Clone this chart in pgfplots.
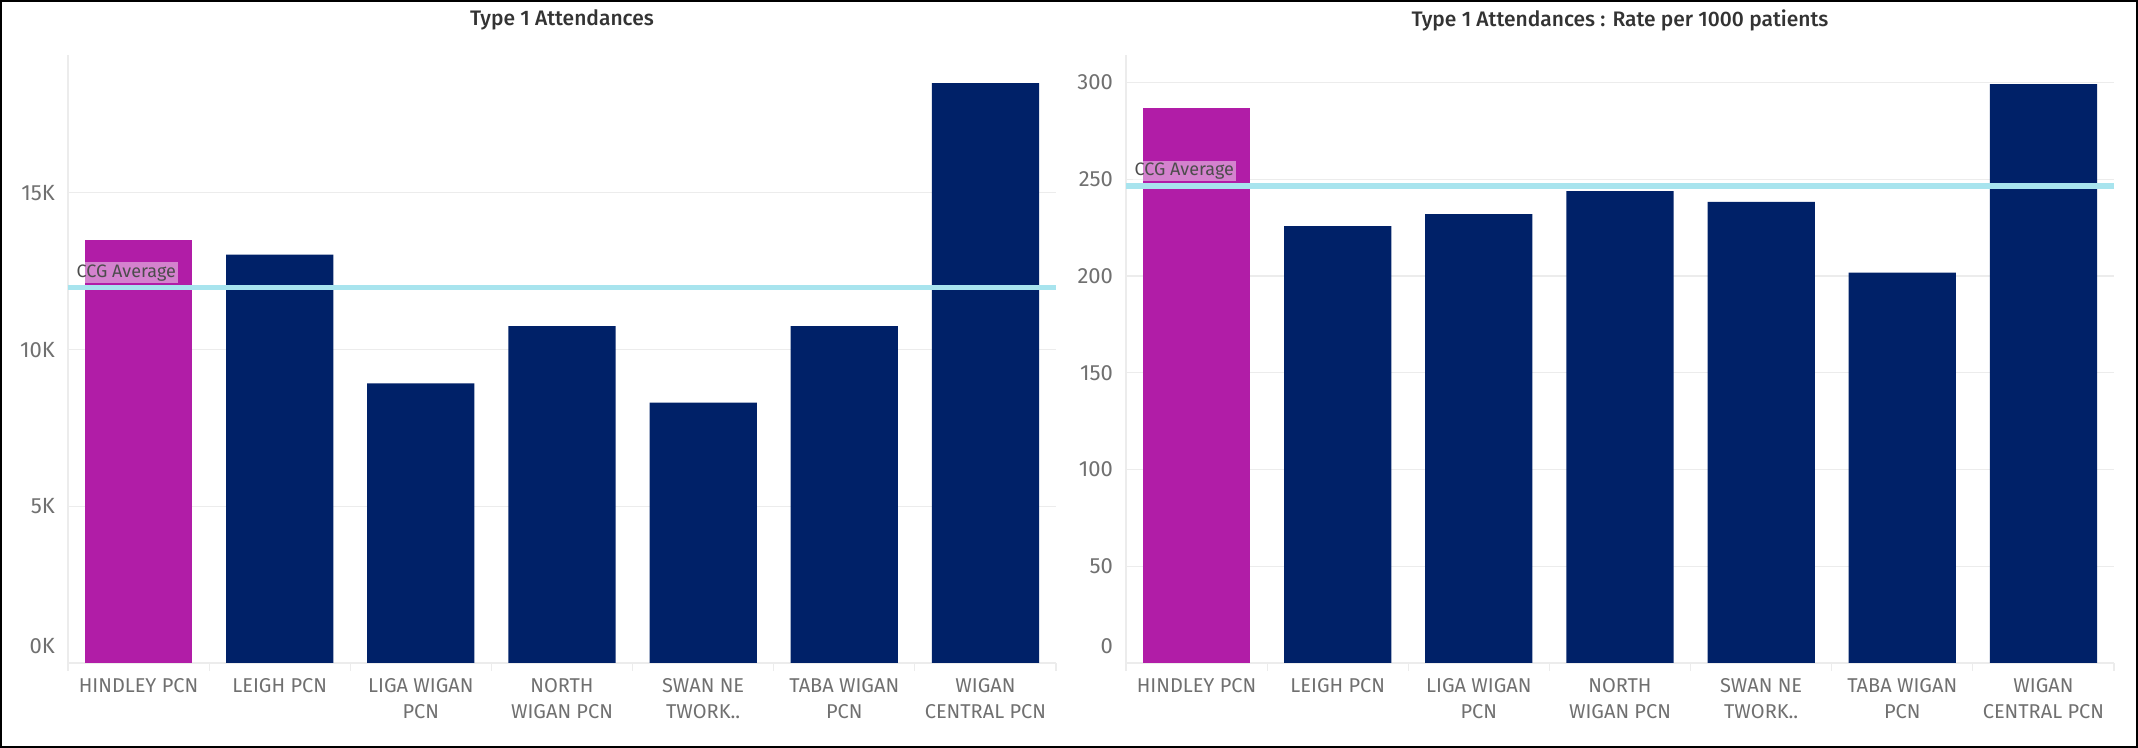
\documentclass[border=0pt]{standalone}
\usepackage{pgfplots}
\pgfplotsset{compat=1.18}
\usepackage{fontspec}
\setmainfont{Fira Sans}
\newfontfamily\titlefont{Fira Sans Medium}

\definecolor{hindley}{RGB}{177,29,167}
\definecolor{navy}{RGB}{0,33,104}
\definecolor{ccg}{RGB}{168,228,238}
\definecolor{gridgrey}{RGB}{236,236,236}
\definecolor{ticktext}{RGB}{112,112,112}
\definecolor{titletext}{RGB}{51,51,51}

% one style for both panels
\pgfplotsset{
  pcn/.style={
    scale only axis, width=494pt, height=304pt,
    anchor=south west,
    xmin=-0.5, xmax=6.5, ymin=0,
    axis lines=left,
    axis line style={-, draw=gridgrey, line width=0.6pt},
    ymajorgrids, grid style={draw=gridgrey, line width=0.6pt},
    major tick length=0pt,
    scaled y ticks=false,
    /pgf/number format/assume math mode=true,
    xtick={0,...,6},
    xticklabels={HINDLEY PCN, LEIGH PCN, LIGA WIGAN\\PCN, NORTH\\WIGAN PCN,
                 SWAN NE\\TWORK.., TABA WIGAN\\PCN, WIGAN\\CENTRAL PCN},
    xticklabel style={align=center, font=\fontsize{10}{13.3}\selectfont,
                      text=ticktext, yshift=-4pt},
    yticklabel style={font=\fontsize{11}{13}\selectfont, text=ticktext, xshift=-3pt},
    extra x ticks={-0.5,0.5,...,6.5}, extra x tick labels={},
    extra x tick style={major tick length=4pt, tick align=outside,
                        tick style={draw=gridgrey, line width=0.6pt}},
    extra y tick style={yticklabel style={yshift=8.5pt}},
    title style={font=\titlefont\fontsize{10.5}{12}\selectfont, text=titletext,
                 at={(0.5,1)}, anchor=center, yshift=11.5pt},
  },
  bars/.style={ybar, bar width=0.76, bar shift=0pt, draw=none, fill=#1},
  avg/.style={ccg, line width=2.6pt, no marks},
}
\tikzset{
  avglabel/.style={pos=0, anchor=south west, xshift=2pt, yshift=1.2pt,
                   fill=white, fill opacity=0.45, text opacity=1, text=black!70,
                   inner sep=1pt, font=\fontsize{9}{10}\selectfont},
}

\begin{document}
\begin{tikzpicture}
\draw[line width=1.2pt] (0.6pt,0.6pt) rectangle (1068.4pt,373.4pt);

\begin{axis}[pcn, at={(34pt,42.5pt)},
    title={Type 1 Attendances},
    ymax=19400,
    ytick={5000,10000,15000}, yticklabels={5K,10K,15K},
    extra y ticks={0}, extra y tick labels={0K}]
  \addplot[bars=hindley] coordinates {(0,13510)};
  \addplot[bars=navy] coordinates {
    (1,13030) (2,8920) (3,10750) (4,8310) (5,10750) (6,18500)};
  \addplot[avg] coordinates {(-0.5,11970) (6.5,11970)}
    node[avglabel] {CCG Average};
\end{axis}

\begin{axis}[pcn, at={(563pt,42.5pt)},
    title={Type 1 Attendances : Rate per 1000 patients},
    ymax=314.2,
    ytick={50,100,...,300},
    extra y ticks={0}, extra y tick labels={0}]
  \addplot[bars=hindley] coordinates {(0,286.7)};
  \addplot[bars=navy] coordinates {
    (1,225.8) (2,232.0) (3,243.9) (4,238.3) (5,201.7) (6,299.1)};
  \addplot[avg] coordinates {(-0.5,246.5) (6.5,246.5)}
    node[avglabel] {CCG Average};
\end{axis}
\end{tikzpicture}
\end{document}
